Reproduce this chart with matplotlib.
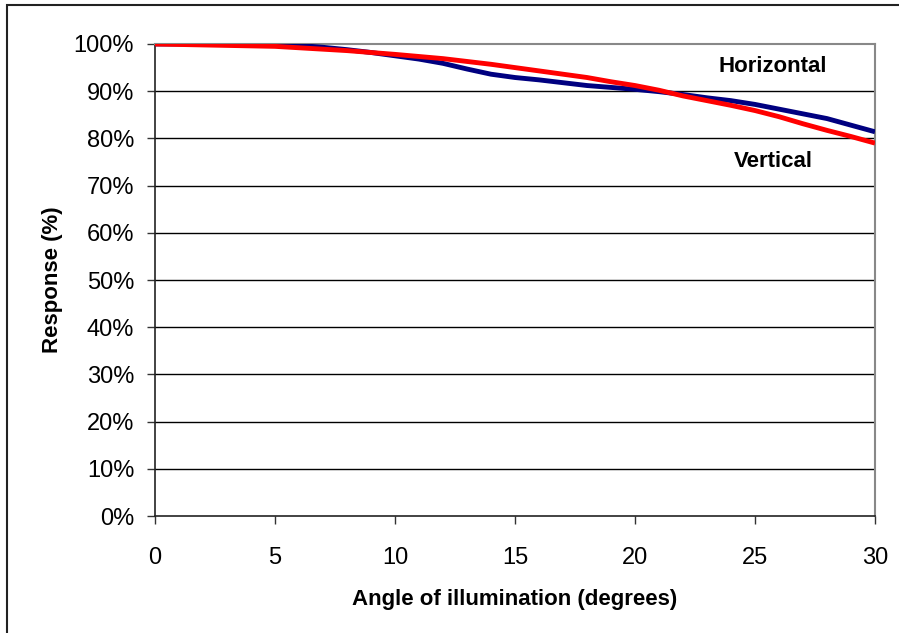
import matplotlib.pyplot as plt
from matplotlib.patches import Rectangle

plt.rcParams["font.family"] = ["Liberation Sans", "DejaVu Sans"]

# データ
angle_h = [0, 2, 4, 6, 7, 8, 9, 10, 11, 12, 13, 14, 15, 16, 17, 18, 19, 20,
           21, 22, 23, 24, 25, 26, 27, 28, 29, 30]
horizontal = [100, 100, 99.9, 99.7, 99.3, 98.8, 98.2, 97.5, 96.8, 95.9, 94.7,
              93.6, 92.9, 92.4, 91.8, 91.2, 90.8, 90.4, 89.9, 89.3, 88.6,
              88.0, 87.2, 86.2, 85.2, 84.2, 82.8, 81.4]

angle_v = [0, 5, 8, 10, 12, 14, 15, 16, 18, 19, 20, 21, 22, 23, 24, 25, 26,
           27, 28, 29, 30]
vertical = [100, 99.5, 98.6, 97.8, 96.9, 95.7, 95.0, 94.3, 92.9, 92.0, 91.2,
            90.2, 89.0, 88.0, 87.0, 85.9, 84.6, 83.1, 81.7, 80.4, 79.0]

yticks = [0, 10, 20, 30, 40, 50, 60, 70, 80, 90, 100]
ytick_labels = [f"{v}%" for v in yticks]
xticks = [0, 5, 10, 15, 20, 25, 30]

fig = plt.figure(figsize=(8.99, 6.33), dpi=100)
ax = fig.add_axes([0.1724, 0.1848, 0.8009, 0.7457])

ax.plot(angle_h, horizontal, color="#000080", lw=3.5, solid_capstyle="butt", zorder=3)
ax.plot(angle_v, vertical, color="#FF0000", lw=3.5, solid_capstyle="butt", zorder=4)

ax.set_xlim(0, 30)
ax.set_ylim(0, 100)
ax.set_xticks(xticks)
ax.set_yticks(yticks)
ax.set_yticklabels(ytick_labels)
ax.tick_params(axis="both", labelsize=17, length=6, width=1, color="#333333")
ax.tick_params(axis="x", pad=16)
ax.tick_params(axis="y", pad=9)

# 目盛線
for v in yticks[1:-1]:
    ax.axhline(v, color="black", lw=1.0, zorder=1)

for side in ["top", "right"]:
    ax.spines[side].set_color("#888888")
    ax.spines[side].set_linewidth(1.5)
for side in ["left", "bottom"]:
    ax.spines[side].set_color("#222222")
    ax.spines[side].set_linewidth(1.2)

ax.set_xlabel("Angle of illumination (degrees)", fontsize=16, fontweight="bold",
              labelpad=15)
ax.set_ylabel("Response (%)", fontsize=16, fontweight="bold", labelpad=8)

ax.text(25.75, 95.3, "Horizontal", fontsize=16, fontweight="bold",
        ha="center", va="center")
ax.text(25.75, 75.2, "Vertical", fontsize=16, fontweight="bold",
        ha="center", va="center")

# 外枠
fig.patches.append(Rectangle((7 / 899, -0.1), 1.2, 1 - 5 / 633 + 0.1,
                             transform=fig.transFigure, fill=False,
                             edgecolor="#222222", lw=1.5))

fig.savefig("out.png", dpi=100)
plt.close(fig)
